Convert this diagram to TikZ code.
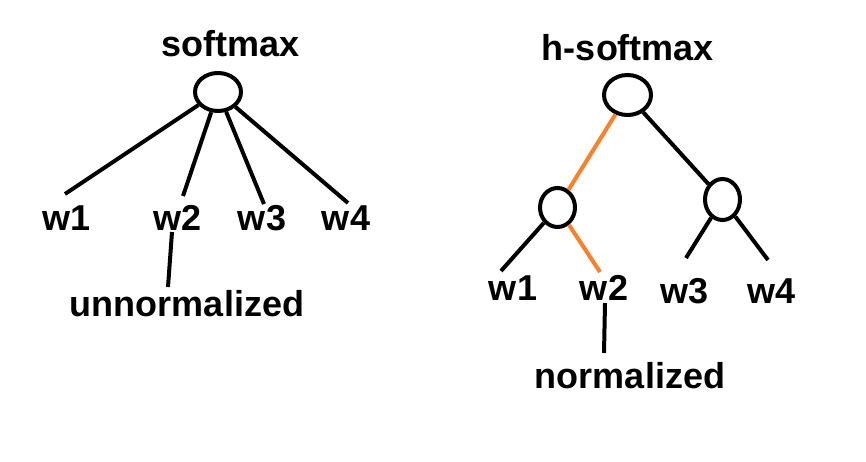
\documentclass[tikz,border=0pt]{standalone}
\usepackage{fontspec}
\setmainfont{Liberation Sans}
\usetikzlibrary{shapes.geometric,calc}
\definecolor{pathorange}{RGB}{255,127,39}
\tikzset{
  lbl/.style={anchor=base,inner sep=0pt,font=\fontsize{36}{40}\selectfont\bfseries},
  unit/.style={draw=black,line width=4pt,ellipse,inner sep=0pt},
  edge/.style={draw=black,line width=4pt},
  hot/.style={draw=pathorange,line width=4pt}
}
\begin{document}
\begin{tikzpicture}[x=1pt,y=-1pt]
\useasboundingbox[fill=white] (0,0) rectangle (866,461);
% left tree
\node[lbl] (ltitle) at (231,56) {softmax};
\node[unit,minimum width=46pt,minimum height=38pt] (lr) at (218,92) {};
\node[lbl] (l1) at (67,230) {w1};
\node[lbl] (l2) at (178,230) {w2};
\node[lbl] (l3) at (262,230) {w3};
\node[lbl] (l4) at (346,230) {w4};
\node[lbl] (lnote) at (187,316) {unnormalized};
\draw[edge] (lr) -- ($(l1.base)+(-2,-36)$);
\draw[edge] (lr) -- ($(l2.base)+(5,-34)$);
\draw[edge] (lr) -- ($(l3.base)+(2,-26)$);
\draw[edge] (lr) -- ($(l4.base)+(2,-27)$);
\draw[edge] ($(l2.base)+(-6,2)$) -- ($(lnote.base)+(-19,-29)$);
% right tree
\node[lbl] (rtitle) at (628,60) {h-softmax};
\node[unit,minimum width=47pt,minimum height=40pt] (rr) at (627.5,95) {};
\node[unit,minimum width=35pt,minimum height=39pt] (ra) at (557.5,207.5) {};
\node[unit,minimum width=35pt,minimum height=41pt] (rb) at (722.5,199.5) {};
\node[lbl] (r1) at (513,300) {w1};
\node[lbl] (r2) at (604,300) {w2};
\node[lbl] (r3) at (684,303) {w3};
\node[lbl] (r4) at (771,303) {w4};
\node[lbl] (rnote) at (630,388) {normalized};
\draw[hot] (rr) -- (ra);
\draw[edge] (rr) -- (rb);
\draw[edge] (ra) -- ($(r1.base)+(-12,-29)$);
\draw[hot] (ra) -- ($(r2.base)+(-4,-28)$);
\draw[edge] (rb) -- ($(r3.base)+(2,-45)$);
\draw[edge] (rb) -- ($(r4.base)+(-3,-43)$);
\draw[edge] ($(r2.base)+(1,3)$) -- ($(rnote.base)+(-26,-35)$);
\end{tikzpicture}
\end{document}
